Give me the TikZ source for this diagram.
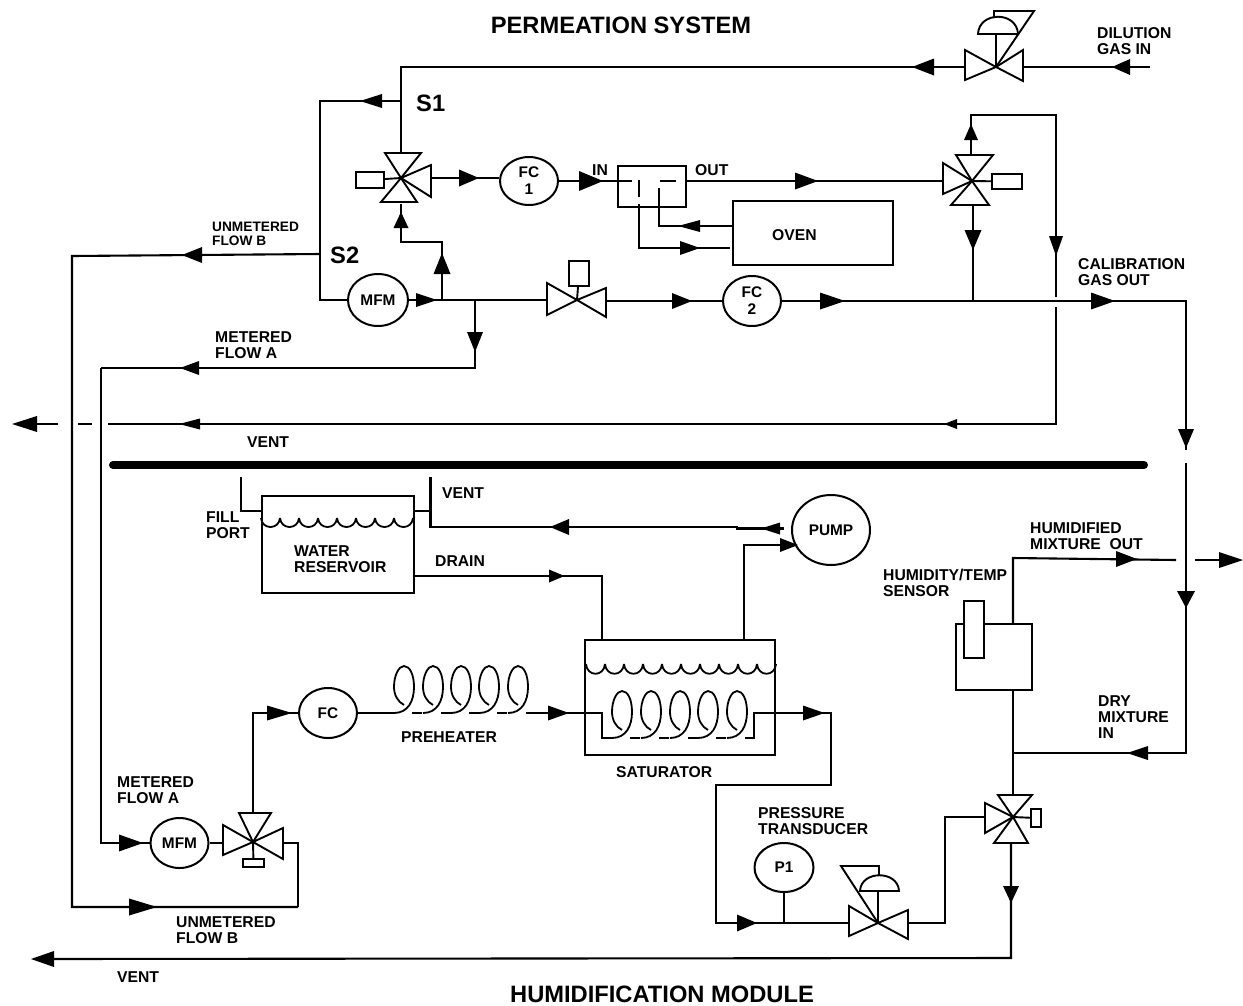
\documentclass[tikz,border=0pt]{standalone}
\usepackage{fontspec}
\setmainfont{Liberation Sans}
\usepackage{tikz}
\usetikzlibrary{shapes.geometric}

\begin{document}
\begin{tikzpicture}[
  x=1pt,
  y=-1pt,
  pipe/.style={line width=2.1pt, line join=miter},
  wedge/.style={line width=1.9pt, line join=miter},
  wire/.style={line width=1.8pt},
  box/.style={draw, line width=2pt, inner sep=0pt, fill=white},
  meter/.style={draw, ellipse, line width=2pt, inner sep=0pt, align=center, font=\fontsize{15.4}{17}\selectfont\bfseries},
  tag/.style={inner sep=0pt, anchor=west, align=left, font=\fontsize{15.7}{16}\selectfont\bfseries},
  tagsmall/.style={inner sep=0pt, anchor=west, align=left, font=\fontsize{13.7}{14}\selectfont\bfseries},
  headline/.style={inner sep=0pt, font=\fontsize{23.7}{26}\selectfont\bfseries},
  coilturn/.pic={
    \draw[wire] (0,-8) .. controls (-6,-11) and (-10,-18) .. (-10,-26)
      .. controls (-10,-38) and (-5,-47) .. (0,-47)
      .. controls (6,-47) and (10,-38) .. (10,-26)
      .. controls (10,-12) and (4,0) .. (-10,0);
  }
]
  \useasboundingbox (0,0) rectangle (1243,1005);

  % permeation system: instruments and boxes
  \node[meter, minimum width=60pt, minimum height=52pt] (mfmA) at (378,300) {MFM};
  \node[meter, minimum width=58pt, minimum height=48pt] (fc1) at (529,181) {FC\\1};
  \node[meter, minimum width=58pt, minimum height=50pt] (fc2) at (752,301) {FC\\2};
  \node[box, minimum width=68pt, minimum height=41pt] (perm) at (652,186.5) {};
  \node[box, minimum width=160pt, minimum height=64pt] (oven) at (813,233) {};
  \node[box, minimum width=20pt, minimum height=25pt] (solC) at (579,273.5) {};
  \node[box, minimum width=28pt, minimum height=16pt] (solS) at (370,180) {};
  \node[box, minimum width=30pt, minimum height=15pt] (solR) at (1007,181.5) {};

  % valve centres and ports, top half
  \coordinate (vD) at (996,67);
  \coordinate (vDl) at (965,67);
  \coordinate (vDr) at (1023,67);
  \coordinate (vS) at (401,178);
  \coordinate (vSt) at (401,153);
  \coordinate (vSb) at (401,204);
  \coordinate (vSr) at (431,178);
  \coordinate (vC) at (577,300);
  \coordinate (vCl) at (547,300);
  \coordinate (vCr) at (606,301);
  \coordinate (vR) at (972,181);
  \coordinate (vRl) at (943,181);
  \coordinate (vRt) at (971,155);
  \coordinate (vRb) at (973,205);

  \draw[wedge] (vD) -- (965,50) -- (965,80) -- cycle;
  \draw[wedge] (vD) -- (1023,50) -- (1023,81) -- cycle;
  \draw[wedge] (vD) -- (996,34);
  \draw[wedge] (978,34) .. controls (979,11) and (1017,11) .. (1018,34) -- cycle;
  \draw[wedge] (994,18) -- (994,11) -- (1034,11) -- (vD);
  \draw[wedge] (vS) -- (385,153) -- (421,153) -- cycle;
  \draw[wedge] (vS) -- (381,202) -- (417,202) -- cycle;
  \draw[wedge] (vS) -- (431,165) -- (431,197) -- cycle;
  \draw[wedge] (solS) -- (vS);
  \draw[wedge] (vC) -- (547,283) -- (547,315) -- cycle;
  \draw[wedge] (vC) -- (606,288) -- (606,317) -- cycle;
  \draw[wedge] (solC) -- (vC);
  \draw[wedge] (vR) -- (956,155) -- (993,155) -- cycle;
  \draw[wedge] (vR) -- (951,205) -- (989,205) -- cycle;
  \draw[wedge] (vR) -- (943,163) -- (943,194) -- cycle;
  \draw[wedge] (vR) -- (solR);

  % piping, top half
  \coordinate (dilin) at (1150,67);
  \coordinate (s1top) at (401,67);
  \coordinate (s1) at (401,101);
  \coordinate (s1left) at (320,101);
  \coordinate (s2) at (320,254);
  \coordinate (jup) at (442,300);
  \coordinate (jback) at (401,242);
  \coordinate (jdown) at (475,300);
  \coordinate (metl) at (101,368);
  \coordinate (unmetl) at (72,256);
  \coordinate (unmetb) at (298,907);
  \coordinate (fc1in) at (499,178);
  \coordinate (calj) at (973,301);
  \coordinate (calr) at (1186,301);
  \coordinate (calgap1) at (1186,450);
  \coordinate (calgap2) at (1186,463);
  \coordinate (dryr) at (1186,753);
  \coordinate (dryl) at (1013,753);
  \coordinate (retl) at (971,115);
  \coordinate (retr) at (1056,115);
  \coordinate (retgap1) at (1056,297);
  \coordinate (retgap2) at (1056,307);
  \coordinate (ventr) at (1056,424);
  \coordinate (ventl) at (108,424);
  \coordinate (dash1a) at (92,424);
  \coordinate (dash1b) at (78,424);
  \coordinate (dash2a) at (58,424);
  \coordinate (dash2b) at (30,424);
  \coordinate (permin) at (632,181);
  \coordinate (permd1) at (660,181);
  \coordinate (permd2) at (676,181);
  \coordinate (permout) at (686,181);
  \coordinate (tubeA) at (639,180);
  \coordinate (tubeB) at (639,197);
  \coordinate (tubeC) at (639,204);
  \coordinate (tubeD) at (639,248);
  \coordinate (tubeE) at (730,248);
  \coordinate (tubeF) at (659,188);
  \coordinate (tubeG) at (659,226);
  \coordinate (tubeH) at (733,226);

  \draw[pipe] (dilin) -- (vDr);
  \draw[pipe] (vDl) -- (s1top) -- (vSt);
  \draw[pipe] (s1) -- (s1left) |- (mfmA.west);
  \draw[pipe] (s2) -- (unmetl) |- (unmetb);
  \draw[pipe] (vSr) -- (fc1in);
  \draw[pipe] (fc1.east) -- (permin);
  \draw[pipe] (permd1) -- (permd2);
  \draw[pipe] (permout) -- (vRl);
  \draw[pipe] (tubeA) -- (tubeB);
  \draw[pipe] (tubeC) -- (tubeD) -- (tubeE);
  \draw[pipe] (tubeF) -- (tubeG) -- (tubeH);
  \draw[pipe] (mfmA.east) -- (vCl);
  \draw[pipe] (jup) |- (jback) -- (vSb);
  \draw[pipe] (jdown) |- (metl);
  \draw[pipe] (vCr) -- (fc2.west);
  \draw[pipe] (fc2.east) -- (calr) -- (calgap1);
  \draw[pipe] (calgap2) -- (dryr) -- (dryl);
  \draw[pipe] (vRb) -- (calj);
  \draw[pipe] (vRt) -- (retl) -- (retr) -- (retgap1);
  \draw[pipe] (retgap2) -- (ventr) -- (ventl);
  \draw[pipe] (dash1a) -- (dash1b);
  \draw[pipe] (dash2a) -- (dash2b);

  \coordinate (barl) at (113,465);
  \coordinate (barr) at (1144,465);
  \draw[line width=8pt, line cap=round] (barl) -- (barr);

  % humidification module: instruments and boxes
  \node[box, minimum width=152pt, minimum height=97pt] (res) at (337.5,544) {};
  \node[box, minimum width=190pt, minimum height=115pt] (sat) at (680,697.5) {};
  \node[box, minimum width=76pt, minimum height=66pt] (sens) at (994,657) {};
  \node[box, minimum width=20pt, minimum height=57pt] (probe) at (974,629.5) {};
  \node[meter, minimum width=78pt, minimum height=70pt] (pump) at (831,530) {PUMP};
  \node[meter, minimum width=58pt, minimum height=50pt] (fc) at (328,713) {FC};
  \node[meter, minimum width=58pt, minimum height=50pt] (mfmB) at (179.5,843) {MFM};
  \node[meter, minimum width=59pt, minimum height=49pt] (p1) at (784,867.5) {P1};
  \node[box, minimum width=21pt, minimum height=8pt] (solM) at (253.5,863) {};
  \node[box, minimum width=10pt, minimum height=18pt] (solV) at (1036,818) {};

  % scallops for the water surfaces, coil turns
  \foreach \x in {261,280,299,318,337,356,375,394}
    \draw[wire] (\x,518) .. controls (\x+1,530) and (\x+18,530) .. (\x+19,518);
  \foreach \x in {586,605,624,643,662,681,700,719,738,757}
    \draw[wire] (\x,664) .. controls (\x+1,677) and (\x+18,677) .. (\x+19,664);
  \foreach \x in {404,433,461,489,518} {
    \pic at (\x,713) {coilturn};
    \draw[wire] (\x+8,713) -- (\x+18,713);
  }
  \foreach \x in {622,651,680,708,737} {
    \pic at (\x,738) {coilturn};
    \draw[wire] (\x+8,738) -- (\x+18,738);
  }

  % valve centres and ports, bottom half
  \coordinate (vM) at (253,842);
  \coordinate (vMl) at (223,843);
  \coordinate (vMr) at (283,843);
  \coordinate (vMt) at (253,813);
  \coordinate (vP) at (878,923);
  \coordinate (vPl) at (849,923);
  \coordinate (vPr) at (908,923);
  \coordinate (vO) at (1013,817);
  \coordinate (vOl) at (985,817);
  \coordinate (vOt) at (1013,795);
  \coordinate (vOb) at (1011,843);

  \draw[wedge] (vM) -- (223,825) -- (223,855) -- cycle;
  \draw[wedge] (vM) -- (283,828) -- (283,859) -- cycle;
  \draw[wedge] (vM) -- (239,813) -- (271,813) -- cycle;
  \draw[wedge] (vM) -- (solM);
  \draw[wedge] (vP) -- (849,906) -- (849,936) -- cycle;
  \draw[wedge] (vP) -- (908,910) -- (908,939) -- cycle;
  \draw[wedge] (vP) -- (878,891);
  \draw[wedge] (860,891) .. controls (861,870) and (898,870) .. (899,891) -- cycle;
  \draw[wedge] (879,875) -- (879,866) -- (841,866) -- (vP);
  \draw[wedge] (vO) -- (998,795) -- (1032,795) -- cycle;
  \draw[wedge] (vO) -- (994,843) -- (1028,843) -- cycle;
  \draw[wedge] (vO) -- (985,803) -- (985,833) -- cycle;
  \draw[wedge] (vO) -- (solV);

  % piping, bottom half
  \coordinate (fillt) at (241,477);
  \coordinate (fillb) at (241,511);
  \coordinate (resf) at (261,511);
  \coordinate (resv) at (413.5,511);
  \coordinate (ventt) at (430.5,477);
  \coordinate (ventj) at (430.5,511);
  \coordinate (ventb) at (430.5,527);
  \coordinate (pumpa) at (737,527);
  \coordinate (pumpb) at (737,528.5);
  \coordinate (pumpc) at (784,528.5);
  \coordinate (resd) at (413.5,576);
  \coordinate (drainr) at (602,576);
  \coordinate (drainb) at (602,640);
  \coordinate (satp) at (744,640);
  \coordinate (satq) at (744,545);
  \coordinate (pumpin) at (796,545);
  \coordinate (hotin) at (394,713);
  \coordinate (hotout) at (526,713);
  \coordinate (satin) at (602,713);
  \coordinate (satl) at (602,738);
  \coordinate (satc) at (612,738);
  \coordinate (coilr) at (754,738);
  \coordinate (satoutl) at (754,713);
  \coordinate (satoutr) at (831,713);
  \coordinate (dropa) at (831,785);
  \coordinate (dropb) at (716,785);
  \coordinate (dropc) at (716,923);
  \coordinate (pj) at (784,923);
  \coordinate (vPup) at (945,923);
  \coordinate (vPtop) at (945,817);
  \coordinate (outa) at (1013,558);
  \coordinate (outb) at (1176,560);
  \coordinate (outc) at (1195,560);
  \coordinate (outd) at (1225,560);
  \coordinate (sensu) at (1013,624);
  \coordinate (sensd) at (1013,690);
  \coordinate (vtb) at (1011,958);
  \coordinate (vtl) at (40,959);

  \draw[pipe] (metl) |- (mfmB.west);
  \draw[pipe] (mfmB.east) -- (vMl);
  \draw[pipe] (unmetb) |- (vMr);
  \draw[pipe] (vMt) |- (fc.west);
  \draw[pipe] (fc.east) -- (hotin);
  \draw[pipe] (hotout) -- (satin) -- (satl) -- (satc);
  \draw[pipe] (coilr) -- (satoutl) -- (satoutr) -- (dropa) -- (dropb) -- (dropc) -- (vPl);
  \draw[pipe] (p1.south) -- (pj);
  \draw[pipe] (vPr) -- (vPup) -- (vPtop) -- (vOl);
  \draw[pipe] (vOt) -- (sensd);
  \draw[pipe] (sensu) -- (outa) -- (outb);
  \draw[pipe] (outc) -- (outd);
  \draw[pipe] (vOb) -- (vtb) -- (vtl);
  \draw[pipe] (fillt) -- (fillb) -- (resf);
  \draw[pipe] (resv) -- (ventj);
  \draw[pipe] (ventt) -- (ventb) -- (pumpa) -- (pumpb) -- (pumpc);
  \draw[pipe] (resd) -- (drainr) -- (drainb);
  \draw[pipe] (satp) -- (satq) -- (pumpin);

  % flow heads: tip x / tip y / direction / length / half width
  \foreach \tx/\ty/\dir/\tl/\tw in {
    1112/67/180/18/8, 912/67/180/22/8.5, 360/101/180/22/7,
    401/212/90/16/7.5, 442/253/90/21/8.5, 437/300/0/21/7,
    479/178/0/20/8.5, 603/181/0/24/10, 818/181/0/23/8.5,
    678/226/180/22/6, 700/248/0/20/7, 475/352/270/20/8,
    971/124/90/16/7, 973/250/270/20/8.5, 1056/256/270/20/7,
    692/301/0/20/8, 845/301/0/25/8.5, 1115/301/0/24/8.5,
    1186/448/270/19/8, 182/255/180/20/8, 180/368/180/19/7,
    12/424/180/25/8, 179/424/180/21/5.5, 944/424/180/13/5,
    550/527/180/19/8, 761/528.5/180/19/6, 798/545/0/18/7,
    564.5/576/0/15.5/6.5, 292/713/0/25/7.5, 569/713/0/21/7.5,
    824.5/713/0/21.5/7.5, 757/923/0/20/8.5, 157/907/0/28/8.5,
    143/843/0/24/8.5, 1137/559/0/21/8, 1243/560/0/24/8,
    1186/608/270/17/9, 1127/753/180/21/7, 1011/903/270/17/8,
    31/959/180/23/8}
    \fill[shift={(\tx,\ty)}, rotate=\dir] (0,0) -- (-\tl,\tw) -- (-\tl,-\tw) -- cycle;

  % texts
  \node[headline] (permtitle) at (621,25) {PERMEATION SYSTEM};
  \node[headline] (humtitle) at (662,994) {HUMIDIFICATION MODULE};
  \node[headline, anchor=west] (lbls1) at (416,103) {S1};
  \node[headline, anchor=west] (lbls2) at (330,255) {S2};
  \node[tag] (lbldil) at (1097,41) {DILUTION\\GAS IN};
  \node[tag] (lblin) at (592,170) {IN};
  \node[tag] (lblout) at (695,170) {OUT};
  \node[tag] (lbloven) at (772,235) {OVEN};
  \node[tag] (lblcal) at (1078,272.5) {CALIBRATION\\GAS OUT};
  \node[tagsmall] (lblunb) at (212,234) {UNMETERED\\FLOW B};
  \node[tag] (lblmeta) at (215,345) {METERED\\FLOW A};
  \node[tag] (lblvent) at (247,442.5) {VENT};
  \node[tag] (lblvres) at (442,493) {VENT};
  \node[tag] (lblfill) at (206,525.5) {FILL\\PORT};
  \node[tag] (lblres) at (294,559) {WATER\\RESERVOIR};
  \node[tag] (lbldrain) at (435,561) {DRAIN};
  \node[tag] (lblhumid) at (1030,536) {HUMIDIFIED\\MIXTURE~ OUT};
  \node[tag] (lblsensor) at (883,583) {HUMIDITY/TEMP\\SENSOR};
  \node[tag] (lblpre) at (401,737) {PREHEATER};
  \node[tag] (lblsat) at (616,772) {SATURATOR};
  \node[tag] (lbldry) at (1098,717) {DRY\\MIXTURE\\IN};
  \node[tag] (lblmetb) at (117,790) {METERED\\FLOW A};
  \node[tag] (lblpt) at (758,821) {PRESSURE\\TRANSDUCER};
  \node[tag] (lblunc) at (176,930) {UNMETERED\\FLOW B};
  \node[tag] (lblventb) at (117,977) {VENT};
\end{tikzpicture}
\end{document}
